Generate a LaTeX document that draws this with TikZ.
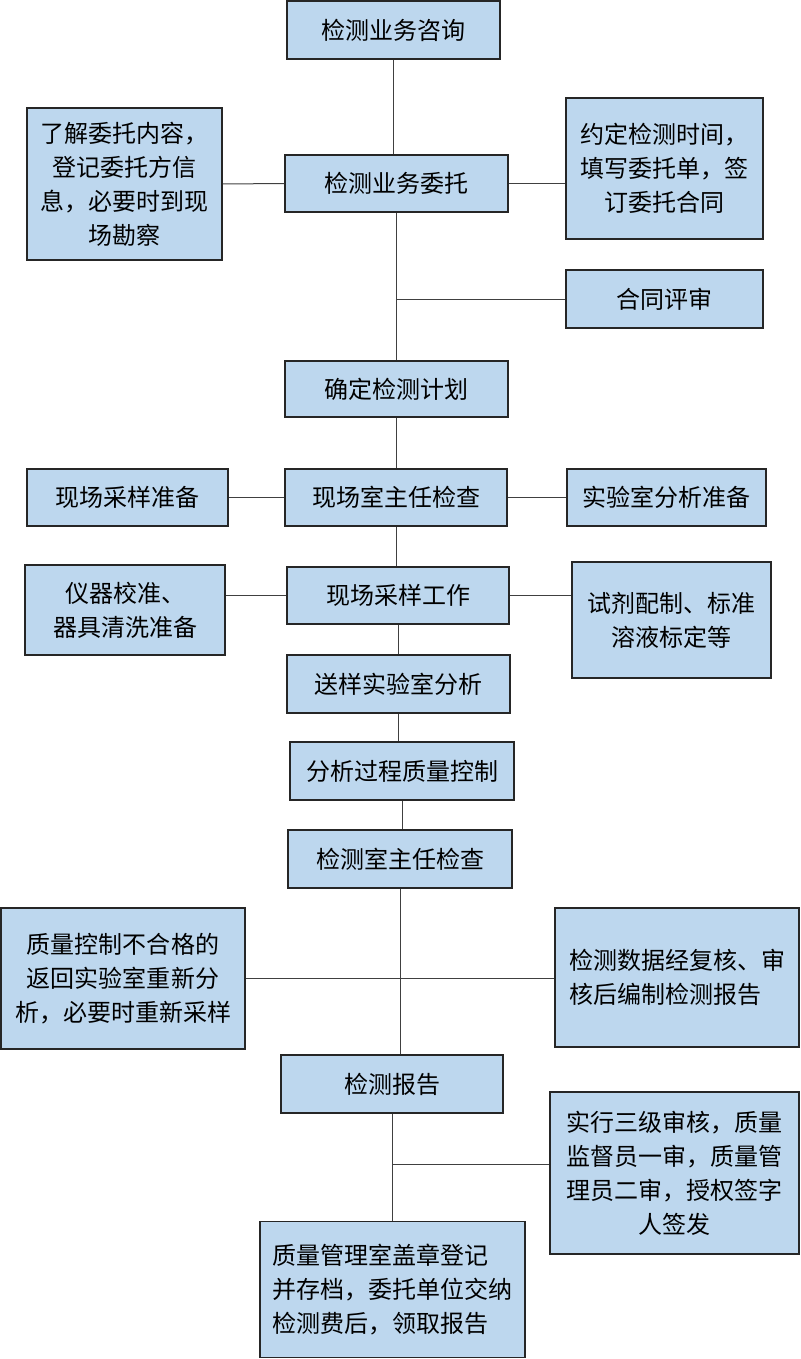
\documentclass[tikz,border=0pt]{standalone}
\usepackage{fontspec}
\setmainfont{Noto Sans CJK SC}
\definecolor{boxblue}{HTML}{BDD7EE}
\begin{document}
\begin{tikzpicture}[x=1pt,y=-1pt,
    box/.style={draw=black!85,line width=1.5pt,fill=boxblue,inner sep=0pt,align=center,font=\fontsize{24}{34}\selectfont},
    link/.style={draw=black!75,line width=1pt}
]
\useasboundingbox (0,0) rectangle (800,1359);

\node[box,minimum width=213pt,minimum height=58pt] (cons)  at (393.5,30)   {检测业务咨询};
\node[box,minimum width=223pt,minimum height=57pt] (entr)  at (396.5,183.5) {检测业务委托};
\node[box,minimum width=195pt,minimum height=152pt] (know) at (124.5,184)  {了解委托内容，\\登记委托方信\\息，必要时到现\\场勘察};
\node[box,minimum width=197pt,minimum height=141pt] (agree) at (664.5,168.5) {约定检测时间，\\填写委托单，签\\订委托合同};
\node[box,minimum width=197pt,minimum height=58pt] (rev)   at (664.5,299)  {合同评审};
\node[box,minimum width=223pt,minimum height=56pt] (plan)  at (396.5,389)  {确定检测计划};
\node[box,minimum width=222pt,minimum height=57pt] (fchk)  at (396,497.5)  {现场室主任检查};
\node[box,minimum width=201pt,minimum height=57pt] (fprep) at (127.5,497.5) {现场采样准备};
\node[box,minimum width=199pt,minimum height=57pt] (lprep) at (666.5,497.5) {实验室分析准备};
\node[box,minimum width=222pt,minimum height=57pt] (fwork) at (398,595.5)  {现场采样工作};
\node[box,minimum width=200pt,minimum height=90pt] (inst)  at (125,610)    {仪器校准、\\器具清洗准备};
\node[box,minimum width=199pt,minimum height=116pt] (reag) at (671.5,620)  {试剂配制、标准\\溶液标定等};
\node[box,minimum width=223pt,minimum height=58pt] (send)  at (398.5,684)  {送样实验室分析};
\node[box,minimum width=224pt,minimum height=58pt] (qc)    at (402,771)    {分析过程质量控制};
\node[box,minimum width=224pt,minimum height=58pt] (dchk)  at (400,859)    {检测室主任检查};
\node[box,minimum width=244pt,minimum height=141pt] (fail) at (123,978.5)  {质量控制不合格的\\返回实验室重新分\\析，必要时重新采样};
\node[box,minimum width=244pt,minimum height=139pt,align=left] (data) at (677,977.5) {检测数据经复核、审\\核后编制检测报告};
\node[box,minimum width=222pt,minimum height=58pt] (rep)   at (392,1084)   {检测报告};
\node[box,minimum width=249pt,minimum height=162pt] (three) at (674.5,1173) {实行三级审核，质量\\监督员一审，质量管\\理员二审，授权签字\\人签发};
\node[box,minimum width=265pt,minimum height=136pt,align=left] (stamp) at (392.5,1289.5) {质量管理室盖章登记\\并存档，委托单位交纳\\检测费后，领取报告};

\coordinate (j3) at (392,1164);

\draw[link] (cons.south) -- (cons.south |- entr.north);
\draw[link] (know.east) -- (entr.west);
\draw[link] (entr.east) -- (entr.east -| agree.west);
\draw[link] (entr.south) -- (entr.south |- plan.north);
\draw[link] (rev.west) -- (rev.west -| entr.south);
\draw[link] (plan.south) -- (plan.south |- fchk.north);
\draw[link] (fprep.east) -- (fchk.west);
\draw[link] (fchk.east) -- (lprep.west);
\draw[link] (fchk.south) -- (fchk.south |- fwork.north);
\draw[link] (fwork.west) -- (fwork.west -| inst.east);
\draw[link] (fwork.east) -- (fwork.east -| reag.west);
\draw[link] (fwork.south) -- (fwork.south |- send.north);
\draw[link] (send.south) -- (send.south |- qc.north);
\draw[link] (qc.south) -- (qc.south |- dchk.north);
\draw[link] (dchk.south) -- (dchk.south |- rep.north);
\draw[link] (fail.east) -- (fail.east -| data.west);
\draw[link] (rep.south) -- (rep.south |- stamp.north);
\draw[link] (j3) -- (j3 -| three.west);
\end{tikzpicture}
\end{document}
